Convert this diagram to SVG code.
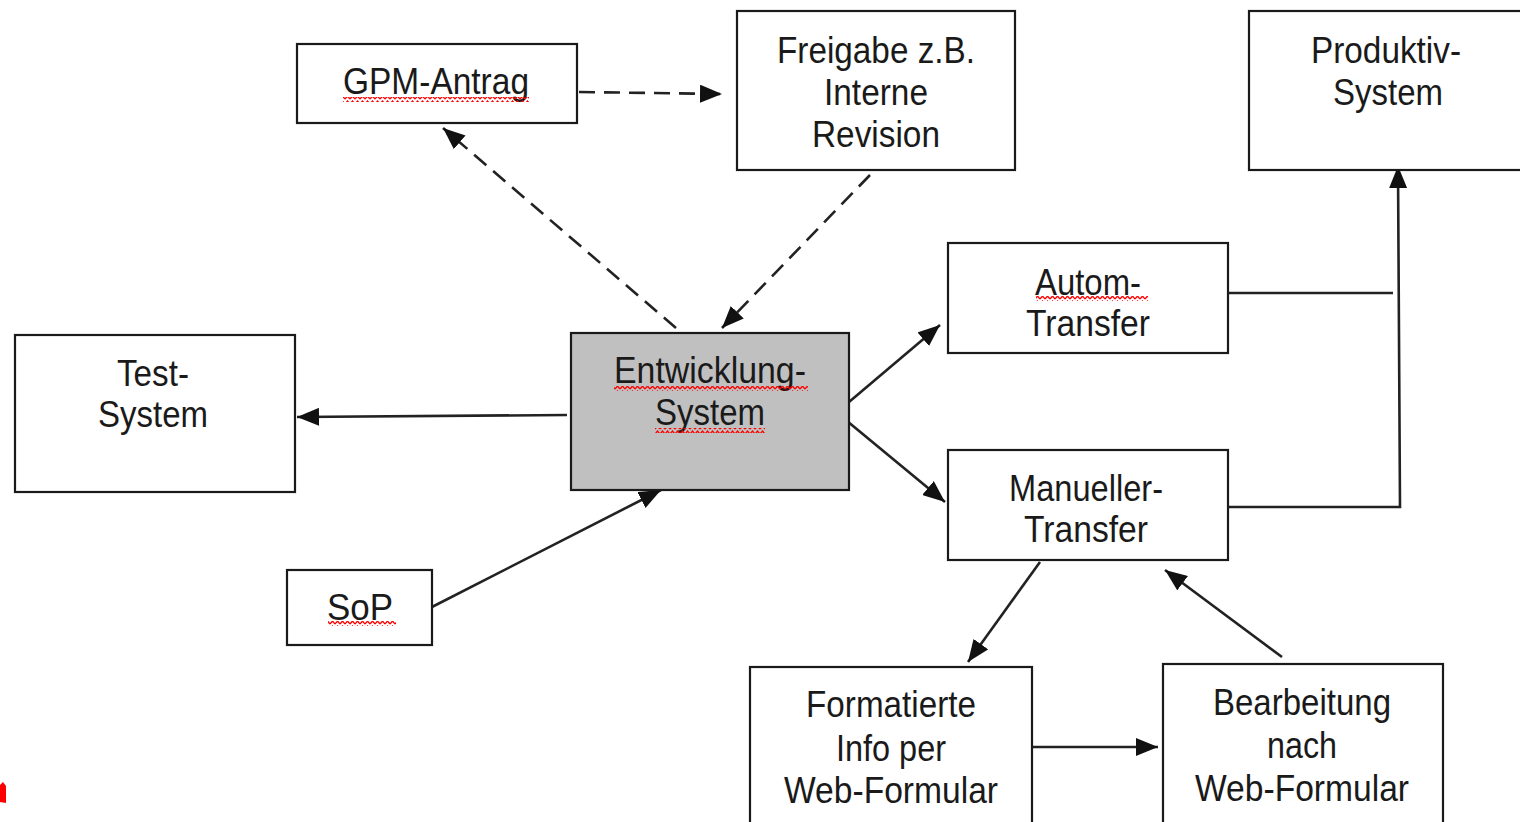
<svg xmlns="http://www.w3.org/2000/svg" width="1520" height="822" viewBox="0 0 1520 822">
<defs>
<style>
.box{fill:#fff;stroke:#1a1a1a;stroke-width:2.2}
.grey{fill:#c0c0c0}
.t{font-family:"Liberation Sans",Arial,sans-serif;font-size:37px;fill:#1a1a1a;text-anchor:middle}
.c{fill:none;stroke:#222;stroke-width:2.6}
.d{stroke-dasharray:16 9}
</style>
<marker id="a" viewBox="0 0 22 18" refX="22" refY="9" markerWidth="22" markerHeight="18" markerUnits="userSpaceOnUse" orient="auto">
<path d="M0,0 L22,9 L0,18 Z" fill="#111"/>
</marker>
<pattern id="sq" width="5" height="5" patternUnits="userSpaceOnUse">
<path d="M0,4 L2.5,1 L5,4" fill="none" stroke="#f00" stroke-width="1.3"/>
</pattern>
</defs>
<rect width="1520" height="822" fill="#fff"/>
<g id="connectors">
<path class="c d" d="M579,92 L722,94" marker-end="url(#a)"/>
<path class="c d" d="M676,328 L443,128" marker-end="url(#a)"/>
<path class="c d" d="M870,175 L722,328" marker-end="url(#a)"/>
<path class="c" d="M567,415 L297,417" marker-end="url(#a)"/>
<path class="c" d="M430,608 L661,490" marker-end="url(#a)"/>
<path class="c" d="M849,402 L940,325" marker-end="url(#a)"/>
<path class="c" d="M847,421 L945,502" marker-end="url(#a)"/>
<path class="c" d="M1228,293 L1393,293"/>
<path class="c" d="M1228,507 L1400,507 L1398,166" marker-end="url(#a)"/>
<path class="c" d="M1040,562 L968,662" marker-end="url(#a)"/>
<path class="c" d="M1282,657 L1165,570" marker-end="url(#a)"/>
<path class="c" d="M1024,747 L1158,747" marker-end="url(#a)"/>
</g>
<g id="gpm">
<rect class="box" x="297" y="44" width="280" height="79"/>
<text class="t" x="436" y="94" textLength="186" lengthAdjust="spacingAndGlyphs">GPM-Antrag</text>
<rect x="343" y="97" width="186" height="5" fill="url(#sq)"/>
</g>
<g id="freigabe">
<rect class="box" x="737" y="11" width="278" height="159"/>
<text class="t" x="876" y="63" textLength="198" lengthAdjust="spacingAndGlyphs">Freigabe z.B.</text>
<text class="t" x="876" y="105" textLength="104" lengthAdjust="spacingAndGlyphs">Interne</text>
<text class="t" x="876" y="147" textLength="128" lengthAdjust="spacingAndGlyphs">Revision</text>
</g>
<g id="produktiv">
<rect class="box" x="1249" y="11" width="280" height="159"/>
<text class="t" x="1386" y="63" textLength="150" lengthAdjust="spacingAndGlyphs">Produktiv-</text>
<text class="t" x="1388" y="105" textLength="110" lengthAdjust="spacingAndGlyphs">System</text>
</g>
<g id="autom">
<rect class="box" x="948" y="243" width="280" height="110"/>
<text class="t" x="1088" y="295" textLength="106" lengthAdjust="spacingAndGlyphs">Autom-</text>
<rect x="1036" y="296" width="112" height="5" fill="url(#sq)"/>
<text class="t" x="1088" y="336" textLength="124" lengthAdjust="spacingAndGlyphs">Transfer</text>
</g>
<g id="entwicklung">
<rect class="box grey" x="571" y="333" width="278" height="157"/>
<text class="t" x="710" y="383" textLength="192" lengthAdjust="spacingAndGlyphs">Entwicklung-</text>
<rect x="614" y="386" width="194" height="5" fill="url(#sq)"/>
<text class="t" x="710" y="425" textLength="110" lengthAdjust="spacingAndGlyphs">System</text>
<rect x="655" y="428" width="110" height="5" fill="url(#sq)"/>
</g>
<g id="test">
<rect class="box" x="15" y="335" width="280" height="157"/>
<text class="t" x="153" y="386" textLength="72" lengthAdjust="spacingAndGlyphs">Test-</text>
<text class="t" x="153" y="427" textLength="110" lengthAdjust="spacingAndGlyphs">System</text>
</g>
<g id="manueller">
<rect class="box" x="948" y="450" width="280" height="110"/>
<text class="t" x="1086" y="501" textLength="154" lengthAdjust="spacingAndGlyphs">Manueller-</text>
<text class="t" x="1086" y="542" textLength="124" lengthAdjust="spacingAndGlyphs">Transfer</text>
</g>
<g id="sop">
<rect class="box" x="287" y="570" width="145" height="75"/>
<text class="t" x="360" y="620" textLength="66" lengthAdjust="spacingAndGlyphs">SoP</text>
<rect x="328" y="621" width="68" height="5" fill="url(#sq)"/>
</g>
<g id="formatierte">
<rect class="box" x="750" y="667" width="282" height="170"/>
<text class="t" x="891" y="717" textLength="170" lengthAdjust="spacingAndGlyphs">Formatierte</text>
<text class="t" x="891" y="761" textLength="110" lengthAdjust="spacingAndGlyphs">Info per</text>
<text class="t" x="891" y="803" textLength="214" lengthAdjust="spacingAndGlyphs">Web-Formular</text>
</g>
<g id="bearbeitung">
<rect class="box" x="1163" y="664" width="280" height="170"/>
<text class="t" x="1302" y="715" textLength="178" lengthAdjust="spacingAndGlyphs">Bearbeitung</text>
<text class="t" x="1302" y="758" textLength="70" lengthAdjust="spacingAndGlyphs">nach</text>
<text class="t" x="1302" y="801" textLength="214" lengthAdjust="spacingAndGlyphs">Web-Formular</text>
</g>
<polygon points="0,785 3,782 6,786 6,803 0,802" fill="#f00"/>
</svg>
